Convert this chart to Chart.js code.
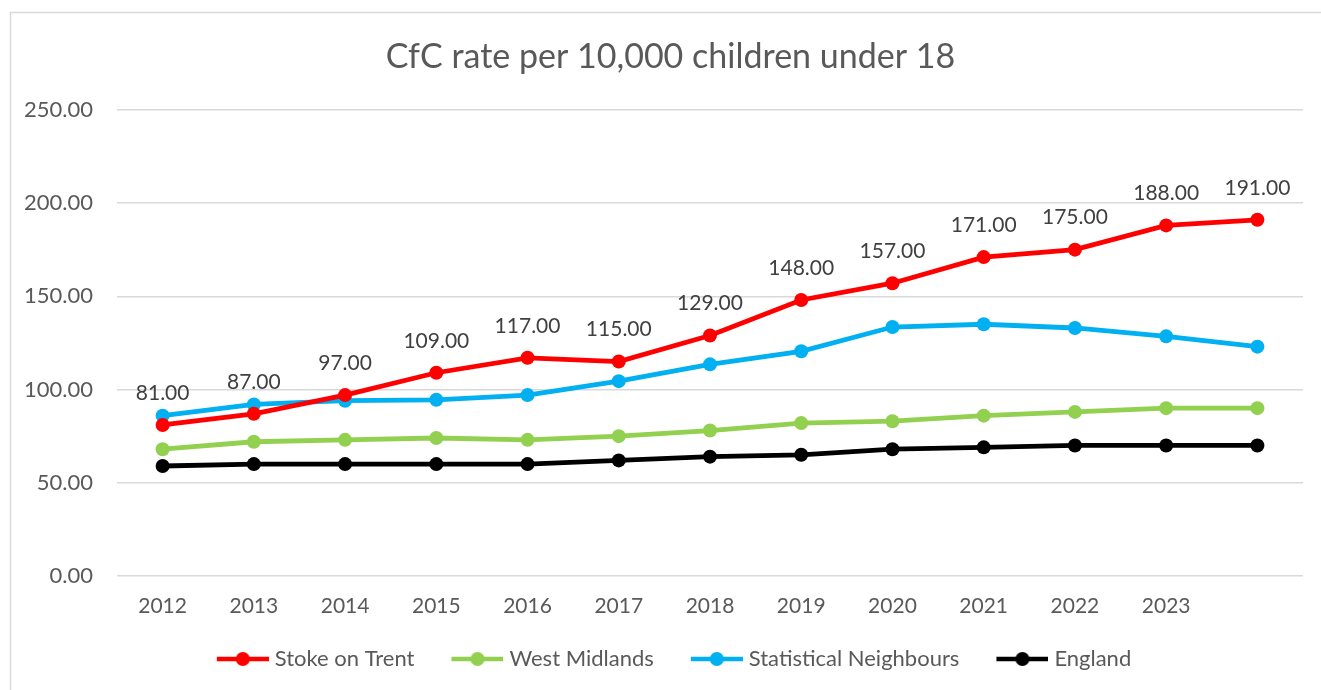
<!DOCTYPE html>
<html>
<head>
<meta charset="utf-8">
<script src="https://cdn.jsdelivr.net/npm/chart.js@4"></script>
<style>
  html, body { margin: 0; padding: 0; background: #fff; }
  #wrap { width: 1321px; height: 690px; position: relative; }
</style>
</head>
<body>
<div id="wrap"><canvas id="G1"></canvas></div>
<script>
// values
const years = ['2012', '2013', '2014', '2015', '2016', '2017', '2018', '2019', '2020', '2021', '2022', '2023', ''];
const stokeOnTrent = [81, 87, 97, 109, 117, 115, 129, 148, 157, 171, 175, 188, 191];
const westMidlands = [68, 72, 73, 74, 73, 75, 78, 82, 83, 86, 88, 90, 90];
const statNeighbours = [86, 92, 94, 94.5, 97, 104.5, 113.5, 120.5, 133.5, 135, 133, 128.5, 123];
const england = [59, 60, 60, 60, 60, 62, 64, 65, 68, 69, 70, 70, 70];
const yTicks = [0, 50, 100, 150, 200, 250];

const FONT = 'Lato, "Open Sans", sans-serif';

// "line with dot" swatch for the legend; image is wider than the legend box
// so the line sits close to its label like Excel does
function swatch(col) {
  const c = document.createElement('canvas');
  c.width = 72; c.height = 16;
  const x = c.getContext('2d');
  x.strokeStyle = col; x.lineWidth = 4.5; x.lineCap = 'butt';
  x.beginPath(); x.moveTo(20, 8); x.lineTo(72, 8); x.stroke();
  x.fillStyle = col;
  x.beginPath(); x.arc(46, 8, 7, 0, Math.PI * 2); x.fill();
  return c;
}

function series(label, data, col) {
  return {
    label: label,
    data: data,
    borderColor: col,
    backgroundColor: col,
    borderWidth: 4.8,
    pointRadius: 7,
    pointHoverRadius: 7,
    pointBorderWidth: 0,
    pointStyle: 'circle',
    tension: 0,
    legendSwatch: swatch(col)
  };
}

const frame = {
  id: 'frame',
  beforeDraw(chart) {
    const ctx = chart.ctx;
    ctx.save();
    ctx.strokeStyle = '#d9d9d9';
    ctx.lineWidth = 1.5;
    ctx.beginPath();
    ctx.moveTo(10.5, 690); ctx.lineTo(10.5, 12.5); ctx.lineTo(1321, 12.5);
    ctx.stroke();
    ctx.restore();
  }
};

// Excel centres title and legend a bit right of the plot centre
const nudge = {
  id: 'nudge',
  afterLayout(chart) {
    if (chart.titleBlock) { chart.titleBlock.left += 14; chart.titleBlock.right += 14; }
    if (chart.legend) { chart.legend.left += 10; chart.legend.right += 10; }
  }
};

const valueLabels = {
  id: 'valueLabels',
  afterDatasetsDraw(chart) {
    const ctx = chart.ctx;
    const meta = chart.getDatasetMeta(0);
    ctx.save();
    ctx.font = '21px ' + FONT;
    ctx.fillStyle = '#404040';
    ctx.textAlign = 'center';
    ctx.textBaseline = 'middle';
    meta.data.forEach((pt, i) => {
      ctx.fillText(stokeOnTrent[i].toFixed(2), pt.x, pt.y - 32);
    });
    ctx.restore();
  }
};

const cfg = {
  type: 'line',
  data: {
    labels: years,
    datasets: [
      series('Stoke on Trent', stokeOnTrent, '#ff0000'),
      series('West Midlands', westMidlands, '#92d050'),
      series('Statistical Neighbours', statNeighbours, '#00b0f0'),
      series('England', england, '#000000')
    ]
  },
  options: {
    responsive: true,
    maintainAspectRatio: false,
    animation: false,
    layout: { padding: { left: 10, right: 18, top: 12, bottom: 10 } },
    plugins: {
      title: {
        display: true,
        text: 'CfC rate per 10,000 children under 18',
        color: '#595959',
        font: { family: FONT, size: 34, weight: 'normal', lineHeight: 1.2 },
        padding: { top: 25, bottom: 32 }
      },
      legend: {
        position: 'bottom',
        labels: {
          color: '#595959',
          font: { family: FONT, size: 22 },
          usePointStyle: true,
          pointStyleWidth: 62,
          padding: 22,
          generateLabels(chart) {
            return chart.data.datasets.map((ds, i) => ({
              text: ds.label,
              pointStyle: ds.legendSwatch,
              fillStyle: ds.borderColor,
              strokeStyle: ds.borderColor,
              lineWidth: 0,
              fontColor: '#595959',
              datasetIndex: i,
              hidden: false
            }));
          }
        }
      },
      tooltip: { enabled: false }
    },
    scales: {
      x: {
        offset: true,
        grid: { display: false, drawTicks: false },
        border: { display: false },
        ticks: { color: '#595959', font: { family: FONT, size: 21 }, padding: 18, maxRotation: 0, autoSkip: false },
        afterFit(s) { s.height = 50; }
      },
      y: {
        min: yTicks[0],
        max: yTicks[yTicks.length - 1],
        grid: { color: '#d9d9d9', lineWidth: 1.5, drawTicks: false },
        border: { display: false },
        afterBuildTicks(s) { s.ticks = yTicks.map(v => ({ value: v })); },
        ticks: {
          color: '#595959',
          font: { family: FONT, size: 22 },
          padding: 24,
          callback: v => Number(v).toFixed(2)
        },
        afterFit(s) { s.width = 107; }
      }
    }
  },
  plugins: [frame, nudge, valueLabels]
};

new Chart(document.getElementById('G1'), cfg);
</script>
</body>
</html>
